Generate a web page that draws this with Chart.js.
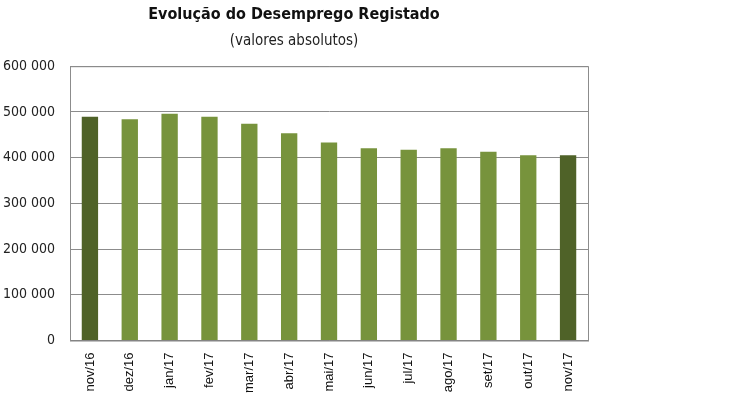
<!DOCTYPE html>
<html>
<head>
<meta charset="utf-8">
<script src="https://cdn.jsdelivr.net/npm/chart.js@4/dist/chart.umd.min.js"></script>
<style>
  html, body { margin: 0; padding: 0; background: #fff; }
  #wrap { position: absolute; left: 0; top: 0; width: 600px; height: 398px; }
</style>
</head>
<body>
<div id="wrap"><canvas id="chart" width="600" height="398"></canvas></div>
<script>
const months = ['nov/16', 'dez/16', 'jan/17', 'fev/17', 'mar/17', 'abr/17', 'mai/17',
    'jun/17', 'jul/17', 'ago/17', 'set/17', 'out/17', 'nov/17'];
const registered = [489500, 484000, 496000, 489500, 474000, 453500, 433000,
    420500, 417500, 420500, 413000, 405500, 405500];
const yTicks = [0, 100000, 200000, 300000, 400000, 500000, 600000];

const darkGreen = '#4f6228';
const lightGreen = '#77933c';
// first and last month highlighted
const barColors = months.map((m, i) => (i === 0 || i === months.length - 1) ? darkGreen : lightGreen);

const frameBorder = {
    id: 'frameBorder',
    afterDraw(chart) {
        const { ctx, chartArea } = chart;
        ctx.save();
        ctx.strokeStyle = '#8c8c8c';
        ctx.lineWidth = 1;
        ctx.strokeRect(chartArea.left + 0.5, chartArea.top + 0.5,
            chartArea.right - chartArea.left, chartArea.bottom - chartArea.top);
        ctx.restore();
    }
};

new Chart(document.getElementById('chart').getContext('2d'), {
    type: 'bar',
    data: {
        labels: months,
        datasets: [{
            data: registered,
            backgroundColor: barColors,
            barPercentage: 0.41,
            categoryPercentage: 1
        }]
    },
    plugins: [frameBorder],
    options: {
        responsive: false,
        animation: false,
        layout: { padding: { left: 0, right: 12, top: 1, bottom: 1 } },
        plugins: {
            legend: { display: false },
            tooltip: { enabled: false },
            title: {
                display: true,
                text: 'Evolução do Desemprego Registado',
                color: '#111',
                font: { family: 'DejaVu Sans Condensed', size: 16, weight: 'bold' },
                padding: { top: 4, bottom: 8 }
            },
            subtitle: {
                display: true,
                text: '(valores absolutos)',
                color: '#222',
                font: { family: 'DejaVu Sans Condensed', size: 15 },
                padding: { bottom: 16 }
            }
        },
        scales: {
            x: {
                grid: { display: false },
                border: { color: '#7f7f7f' },
                ticks: {
                    color: '#111',
                    font: { family: 'Liberation Sans', size: 13 },
                    maxRotation: 90,
                    minRotation: 90,
                    padding: 4
                }
            },
            y: {
                min: 0,
                max: 600000,
                afterBuildTicks(axis) {
                    axis.ticks = yTicks.map(v => ({ value: v }));
                },
                afterFit(scale) {
                    scale.width = 70;
                },
                grid: { color: '#8c8c8c', drawTicks: false },
                border: { color: '#8c8c8c' },
                ticks: {
                    color: '#222',
                    padding: 15,
                    font: { family: 'DejaVu Sans Condensed', size: 14 },
                    callback: v => v === 0 ? '0' : String(v).replace(/\B(?=(\d{3})+(?!\d))/g, ' ')
                }
            }
        }
    }
});
</script>
</body>
</html>
